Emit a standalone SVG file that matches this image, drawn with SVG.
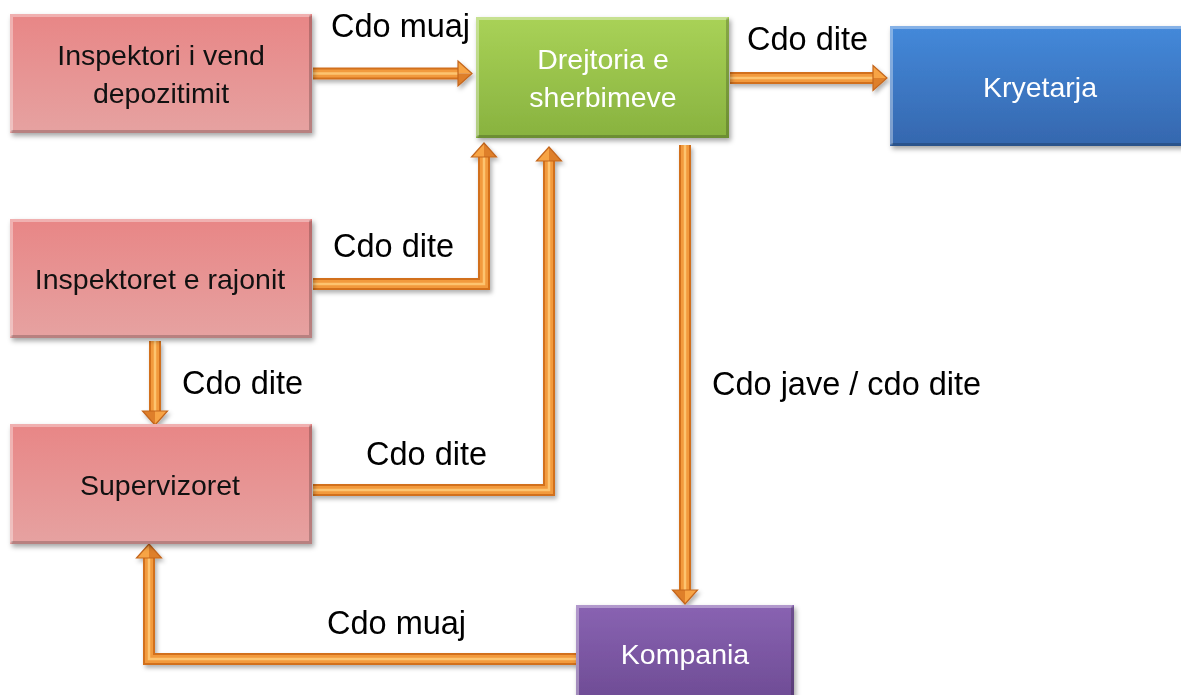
<svg xmlns="http://www.w3.org/2000/svg" width="1181" height="695" viewBox="0 0 1181 695">
<defs>
<linearGradient id="gPink" x1="0" y1="0" x2="0" y2="1"><stop offset="0" stop-color="#E88686"/><stop offset="1" stop-color="#E6A2A1"/></linearGradient>
<linearGradient id="gGreen" x1="0" y1="0" x2="0" y2="1"><stop offset="0" stop-color="#A9D257"/><stop offset="1" stop-color="#88B23F"/></linearGradient>
<linearGradient id="gBlue" x1="0" y1="0" x2="0" y2="1"><stop offset="0" stop-color="#4489DA"/><stop offset="1" stop-color="#3567AE"/></linearGradient>
<linearGradient id="gPurple" x1="0" y1="0" x2="0" y2="1"><stop offset="0" stop-color="#8963B2"/><stop offset="1" stop-color="#6A4890"/></linearGradient>
<filter id="sh" x="-10%" y="-10%" width="130%" height="140%"><feDropShadow dx="2" dy="3" stdDeviation="2.5" flood-color="#000" flood-opacity="0.35"/></filter>
<filter id="ash" x="-10%" y="-10%" width="130%" height="130%"><feDropShadow dx="2" dy="3" stdDeviation="2" flood-color="#000" flood-opacity="0.3"/></filter>
<g id="head">
<polygon points="-14,-12.5 0,0 -14,0" fill="#F7A444"/>
<polygon points="-14,0 0,0 -14,12.5" fill="#DE7F2C"/>
<polygon points="-14,-12.5 0,0 -14,12.5" fill="none" stroke="#C4661C" stroke-width="1.2" stroke-linejoin="miter"/>
</g>
</defs>
<style>
.node rect.b{filter:url(#sh);}
.hl{fill:none;stroke:#fff;stroke-opacity:0.35;stroke-width:3;}
.dk{fill:none;stroke:#000;stroke-opacity:0.2;stroke-width:3;}
.nt{font-family:"Liberation Sans",Arial,sans-serif;font-size:28.5px;text-anchor:middle;}
.dark{fill:#111;}
.light{fill:#fff;}
.lbl{font-family:"Liberation Sans",Arial,sans-serif;font-size:32.5px;fill:#000;}
.s0{fill:none;stroke:#D2701F;stroke-width:12;stroke-linejoin:miter;}
.s1{fill:none;stroke:#F29A3C;stroke-width:8;stroke-linejoin:miter;}
.s2{fill:none;stroke:#FDC470;stroke-width:2.5;stroke-linejoin:miter;}
</style>
<rect width="1181" height="695" fill="#fff"/>

<g id="connectors" filter="url(#ash)">
<g id="c1"><path class="s0" d="M313,73.5 H459"/><path class="s1" d="M313,73.5 H459"/><path class="s2" d="M313,73.5 H459"/><use href="#head" transform="translate(472,73.5)"/></g>
<g id="c2"><path class="s0" d="M730,78 H874"/><path class="s1" d="M730,78 H874"/><path class="s2" d="M730,78 H874"/><use href="#head" transform="translate(887,78)"/></g>
<g id="c3"><path class="s0" d="M313,284 H484 V156"/><path class="s1" d="M313,284 H484 V156"/><path class="s2" d="M313,284 H484 V156"/><use href="#head" transform="translate(484,143) rotate(-90)"/></g>
<g id="c4"><path class="s0" d="M313,490 H549 V160"/><path class="s1" d="M313,490 H549 V160"/><path class="s2" d="M313,490 H549 V160"/><use href="#head" transform="translate(549,147) rotate(-90)"/></g>
<g id="c5"><path class="s0" d="M685,145 V591"/><path class="s1" d="M685,145 V591"/><path class="s2" d="M685,145 V591"/><use href="#head" transform="translate(685,604) rotate(90)"/></g>
<g id="c6"><path class="s0" d="M577,659 H149 V557"/><path class="s1" d="M577,659 H149 V557"/><path class="s2" d="M577,659 H149 V557"/><use href="#head" transform="translate(149,544) rotate(-90)"/></g>
<g id="c7"><path class="s0" d="M155,341 V412"/><path class="s1" d="M155,341 V412"/><path class="s2" d="M155,341 V412"/><use href="#head" transform="translate(155,425) rotate(90)"/></g>
</g>

<g id="n1" class="node">
<rect class="b" x="10" y="14" width="302" height="119" fill="url(#gPink)"/>
<path class="hl" d="M11.5,131.5 V15.5 H310.5"/><path class="dk" d="M11.5,131.5 H310.5 V15.5"/>
<text class="nt dark" x="161" y="65">Inspektori i vend</text>
<text class="nt dark" x="161" y="103">depozitimit</text>
</g>
<g id="n2" class="node">
<rect class="b" x="476" y="17" width="253" height="121" fill="url(#gGreen)"/>
<path class="hl" d="M477.5,136.5 V18.5 H727.5"/><path class="dk" d="M477.5,136.5 H727.5 V18.5"/>
<text class="nt light" x="603" y="69">Drejtoria e</text>
<text class="nt light" x="603" y="107">sherbimeve</text>
</g>
<g id="n3" class="node">
<rect class="b" x="890" y="26" width="310" height="120" fill="url(#gBlue)"/>
<path class="hl" d="M891.5,144.5 V27.5 H1200"/><path class="dk" d="M891.5,144.5 H1200"/>
<text class="nt light" x="1040" y="97">Kryetarja</text>
</g>
<g id="n4" class="node">
<rect class="b" x="10" y="219" width="302" height="119" fill="url(#gPink)"/>
<path class="hl" d="M11.5,336.5 V220.5 H310.5"/><path class="dk" d="M11.5,336.5 H310.5 V220.5"/>
<text class="nt dark" x="160" y="289">Inspektoret e rajonit</text>
</g>
<g id="n5" class="node">
<rect class="b" x="10" y="424" width="302" height="120" fill="url(#gPink)"/>
<path class="hl" d="M11.5,542.5 V425.5 H310.5"/><path class="dk" d="M11.5,542.5 H310.5 V425.5"/>
<text class="nt dark" x="160" y="495">Supervizoret</text>
</g>
<g id="n6" class="node">
<rect class="b" x="576" y="605" width="218" height="110" fill="url(#gPurple)"/>
<path class="hl" d="M577.5,715 V606.5 H792.5"/><path class="dk" d="M792.5,606.5 V715"/>
<text class="nt light" x="685" y="664">Kompania</text>
</g>

<g id="labels">
<text class="lbl" x="331" y="37">Cdo muaj</text>
<text class="lbl" x="747" y="50">Cdo dite</text>
<text class="lbl" x="333" y="257">Cdo dite</text>
<text class="lbl" x="182" y="394">Cdo dite</text>
<text class="lbl" x="366" y="465">Cdo dite</text>
<text class="lbl" x="712" y="395">Cdo jave / cdo dite</text>
<text class="lbl" x="327" y="634">Cdo muaj</text>
</g>
</svg>
